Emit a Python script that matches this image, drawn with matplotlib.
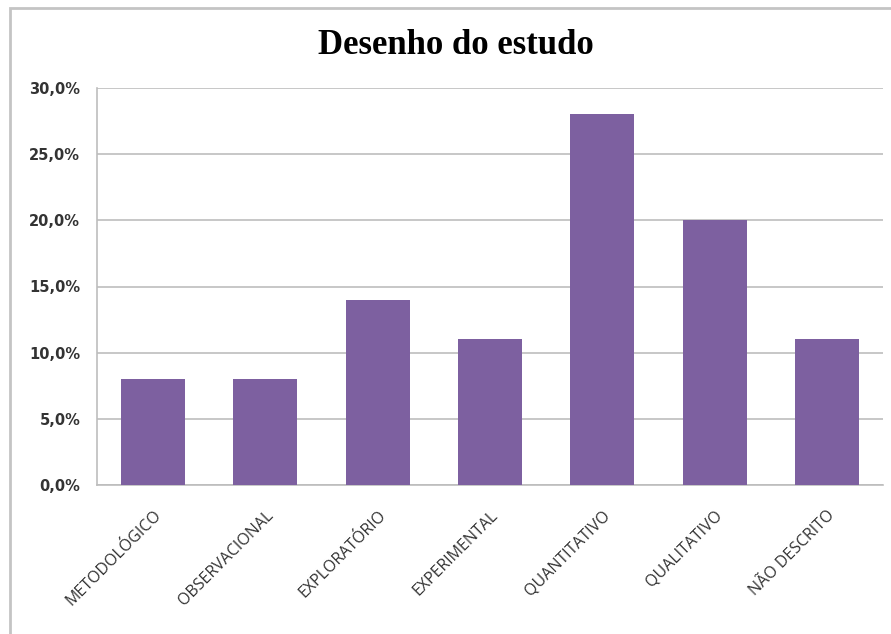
import matplotlib.pyplot as plt
from matplotlib.patches import Rectangle

categorias = ['METODOLÓGICO', 'OBSERVACIONAL', 'EXPLORATÓRIO', 'EXPERIMENTAL',
              'QUANTITATIVO', 'QUALITATIVO', 'NÃO DESCRITO']
valores = [8.0, 8.0, 14.0, 11.0, 28.0, 20.0, 11.0]
yticks = [0, 5, 10, 15, 20, 25, 30]

fig = plt.figure(figsize=(8.91, 6.34), dpi=100)
fig.patch.set_facecolor('white')

# moldura externa do grafico (sem borda inferior visivel)
fig.patches.append(Rectangle((10 / 891, -0.05), 1.0, 1.05 - 8 / 634,
                             transform=fig.transFigure, fill=False,
                             edgecolor='#c4c4c4', linewidth=2))

ax = fig.add_axes([97 / 891, 1 - 485 / 634, 786 / 891, 397 / 634])
x = range(len(categorias))
ax.bar(x, valores, width=0.57, color='#7d60a0', zorder=3)

ax.set_xlim(-0.5, len(categorias) - 0.5)
ax.set_ylim(0, 30)
ax.set_yticks(yticks)
ax.set_yticklabels([f'{v:.1f}%'.replace('.', ',') for v in yticks])
ax.set_xticks(list(x))
ax.set_xticklabels(categorias, rotation=45, ha='right', rotation_mode='anchor')

ax.grid(axis='y', color='#bdbdbd', linewidth=1.2, zorder=0)
for s in ['top', 'right']:
    ax.spines[s].set_visible(False)
for s in ['left', 'bottom']:
    ax.spines[s].set_color('#bdbdbd')
    ax.spines[s].set_linewidth(1.2)
ax.tick_params(axis='both', length=0, colors='#333333')
ax.tick_params(axis='y', pad=12, labelsize=10.5)
ax.tick_params(axis='x', pad=16, labelsize=11.5)
for t in ax.get_yticklabels():
    t.set_fontweight('bold')
    t.set_family('DejaVu Sans')
for t in ax.get_xticklabels():
    t.set_family('Open Sans')

fig.text(456 / 891, 1 - 46 / 634, 'Desenho do estudo', ha='center', va='center',
         fontsize=25, fontweight='bold', family='Liberation Serif')

fig.savefig('out.png', dpi=100)
